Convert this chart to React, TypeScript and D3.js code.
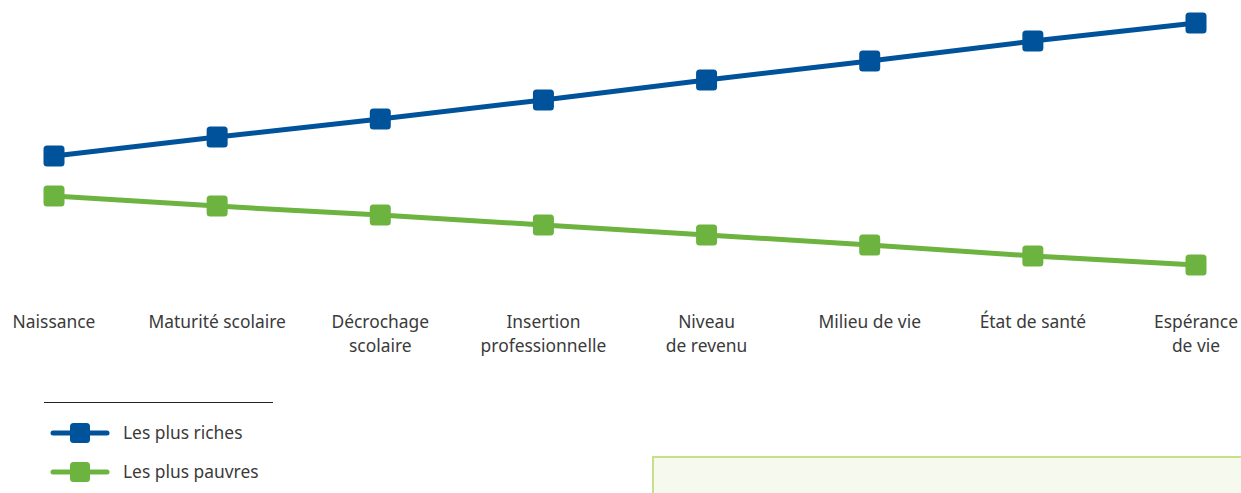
import { useEffect, useMemo } from 'react'
import * as d3 from 'd3'

const categories = [
  'Naissance',
  'Maturité scolaire',
  'Décrochage\nscolaire',
  'Insertion\nprofessionnelle',
  'Niveau\nde revenu',
  'Milieu de vie',
  'État de santé',
  'Espérance\nde vie',
]

const richValues = [48, 54.3, 60.3, 66.7, 73.3, 79.7, 86.3, 92.3]
const poorValues = [34.7, 31.3, 28.3, 25, 21.7, 18.3, 14.7, 11.7]

const seriesNames = ['Les plus riches', 'Les plus pauvres']

const BLUE = '#00539b'
const GREEN = '#6db33f'
const FONT = '"Noto Sans", "Open Sans", sans-serif'

function Marker({ cx, cy, color, size = 21 }: { cx: number; cy: number; color: string; size?: number }) {
  return <rect x={cx - size / 2} y={cy - size / 2} width={size} height={size} rx={3.5} fill={color} />
}

export default function App() {
  useEffect(() => {
    document.body.style.margin = '0'
  }, [])

  const width = 1241
  const height = 493

  const x = useMemo(() => d3.scalePoint().domain(categories).range([54, 1196]), [])
  const y = useMemo(() => d3.scaleLinear().domain([0, 100]).range([300, 0]), [])

  const line = d3
    .line<number>()
    .x((_, i) => x(categories[i]) ?? 0)
    .y((v) => y(v))

  const series = [
    { name: seriesNames[0], values: richValues, color: BLUE },
    { name: seriesNames[1], values: poorValues, color: GREEN },
  ]

  return (
    <svg width={width} height={height} style={{ display: 'block' }} fontFamily={FONT}>
      <rect x={653} y={457} width={600} height={60} fill="#f5f9ee" stroke="#c8e08a" strokeWidth={2} />

      {series.map((s) => (
        <g key={s.name}>
          <path d={line(s.values) ?? ''} fill="none" stroke={s.color} strokeWidth={5} />
          {s.values.map((v, i) => (
            <Marker key={i} cx={x(categories[i]) ?? 0} cy={y(v)} color={s.color} />
          ))}
        </g>
      ))}

      {categories.map((c) => (
        <text key={c} x={x(c) ?? 0} y={328} textAnchor="middle" fontSize={17.4} fill="#3a3a3a">
          {c.split('\n').map((part, j) => (
            <tspan key={j} x={x(c) ?? 0} dy={j === 0 ? 0 : 24}>
              {part}
            </tspan>
          ))}
        </text>
      ))}

      <line x1={44} x2={273} y1={402.5} y2={402.5} stroke="#222" strokeWidth={1.2} />
      {series.map((s, i) => {
        const ly = 433 + i * 39
        return (
          <g key={s.name}>
            <line x1={53} x2={107} y1={ly} y2={ly} stroke={s.color} strokeWidth={5} strokeLinecap="round" />
            <Marker cx={80} cy={ly} color={s.color} size={20} />
            <text x={123} y={ly + 6} fontSize={17.4} fill="#3a3a3a">
              {s.name}
            </text>
          </g>
        )
      })}
    </svg>
  )
}
